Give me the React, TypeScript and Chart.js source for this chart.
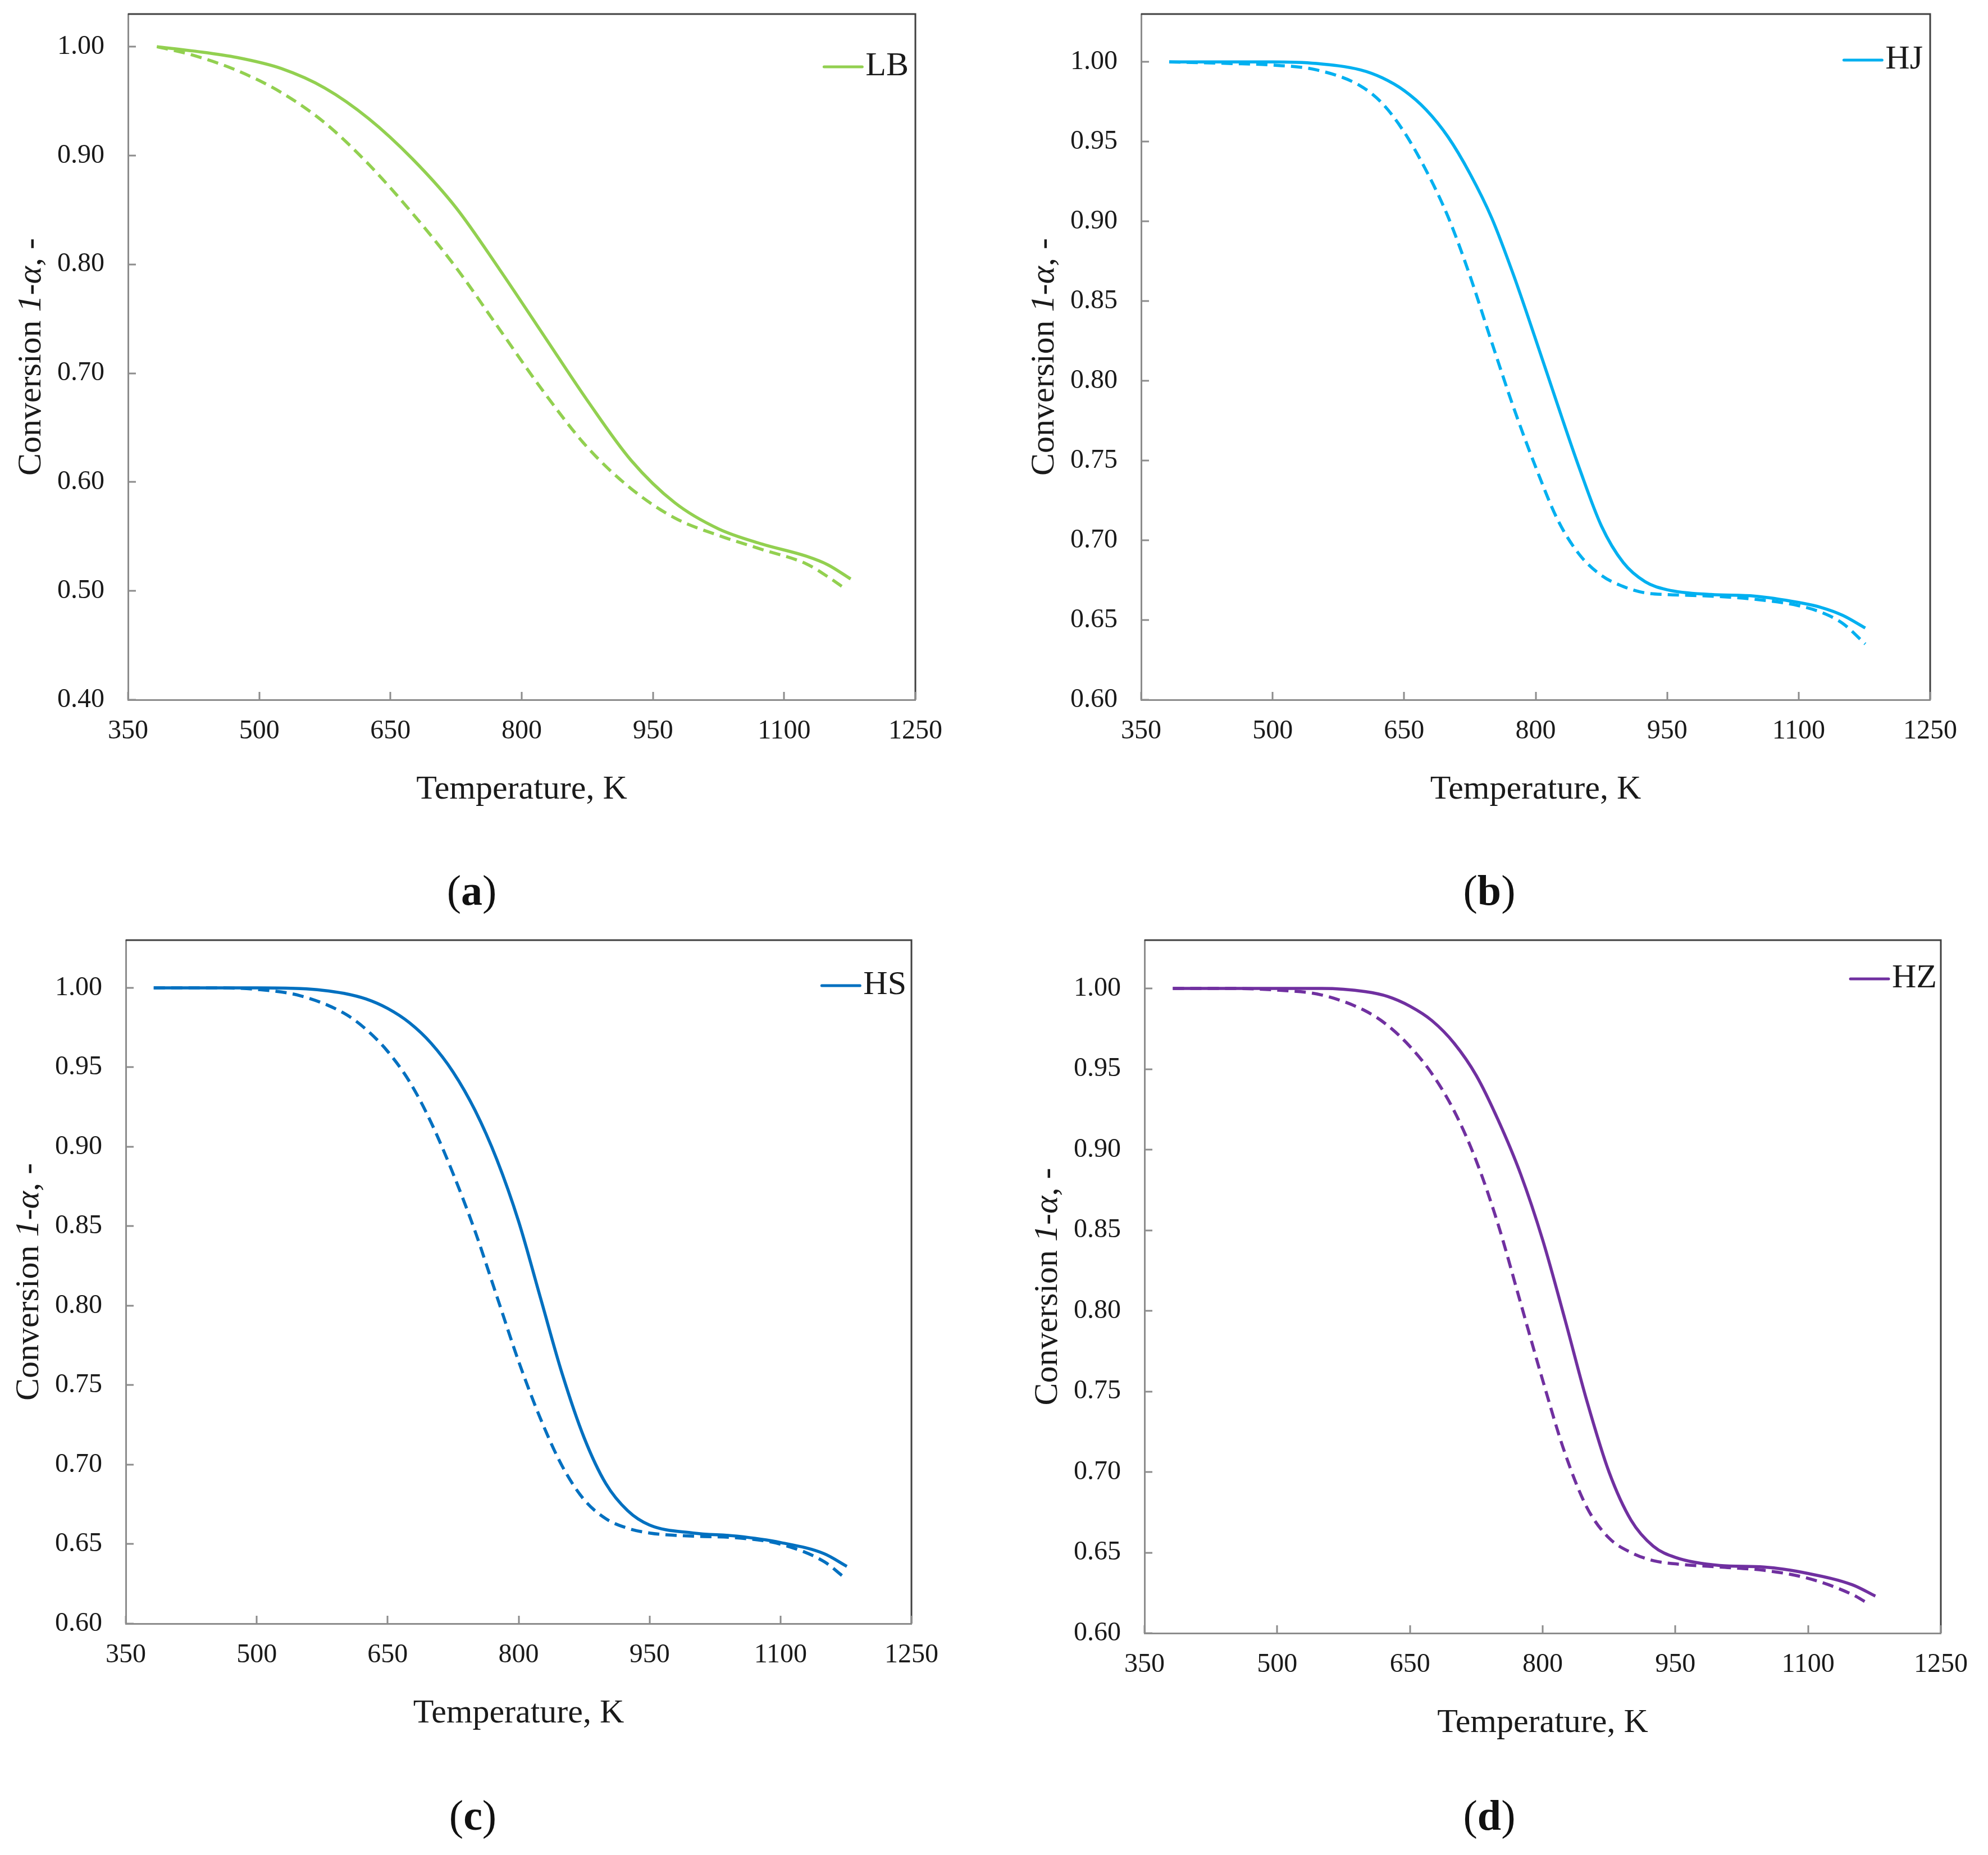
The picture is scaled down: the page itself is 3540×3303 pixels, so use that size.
import React, { useEffect, useRef } from "react";
import { Chart, registerables } from "chart.js";

Chart.register(...registerables);

const FONT = "'Liberation Serif', 'Times New Roman', serif";
Chart.defaults.font.family = FONT;

// x axis ticks (K) shared by all panels
const tempTicks = [350, 500, 650, 800, 950, 1100, 1250];

// (a) LB
const lbTempSolid = [383, 425, 475, 525, 575, 625, 675, 725, 775, 825, 875, 925, 975, 1025, 1075, 1125, 1150, 1176];
const lbSolid = [1.0, 0.996, 0.99, 0.98, 0.962, 0.934, 0.897, 0.852, 0.795, 0.735, 0.675, 0.62, 0.581, 0.557, 0.543, 0.532, 0.524, 0.511];
const lbTempDashed = [383, 425, 475, 525, 575, 625, 675, 725, 775, 825, 875, 925, 975, 1025, 1075, 1125, 1150, 1168];
const lbDashed = [1.0, 0.992, 0.978, 0.958, 0.93, 0.892, 0.847, 0.797, 0.74, 0.683, 0.632, 0.594, 0.567, 0.551, 0.538, 0.525, 0.513, 0.503];

// (b) HJ
const hjTempSolid = [382, 450, 500, 550, 600, 625, 650, 675, 700, 725, 750, 775, 800, 825, 850, 875, 900, 925, 950, 1000, 1050, 1100, 1125, 1150, 1176];
const hjSolid = [1.0, 1.0, 1.0, 0.999, 0.995, 0.99, 0.982, 0.97, 0.953, 0.93, 0.902, 0.866, 0.826, 0.785, 0.745, 0.709, 0.686, 0.674, 0.669, 0.666, 0.665, 0.661, 0.658, 0.653, 0.645];
const hjTempDashed = [382, 450, 500, 550, 600, 625, 650, 675, 700, 725, 750, 775, 800, 825, 850, 875, 900, 925, 950, 1000, 1050, 1100, 1125, 1150, 1176];
const hjDashed = [1.0, 0.999, 0.998, 0.995, 0.985, 0.974, 0.956, 0.932, 0.903, 0.866, 0.824, 0.783, 0.746, 0.713, 0.691, 0.678, 0.671, 0.667, 0.666, 0.665, 0.663, 0.659, 0.655, 0.648, 0.635];

// (c) HS
const hsTempSolid = [382, 450, 500, 550, 575, 600, 625, 650, 675, 700, 725, 750, 775, 800, 825, 850, 875, 900, 925, 950, 1000, 1050, 1100, 1150, 1176];
const hsSolid = [1.0, 1.0, 1.0, 0.9995, 0.9985, 0.9965, 0.993, 0.987, 0.978, 0.965, 0.947, 0.923, 0.892, 0.853, 0.805, 0.757, 0.717, 0.688, 0.671, 0.662, 0.657, 0.655, 0.651, 0.644, 0.636];
const hsTempDashed = [382, 450, 500, 550, 600, 625, 650, 675, 700, 725, 750, 775, 800, 825, 850, 875, 900, 925, 950, 1000, 1050, 1100, 1150, 1171];
const hsDashed = [1.0, 1.0, 0.999, 0.995, 0.984, 0.974, 0.96, 0.941, 0.915, 0.883, 0.847, 0.806, 0.765, 0.729, 0.699, 0.678, 0.666, 0.66, 0.657, 0.655, 0.654, 0.65, 0.639, 0.63];

// (d) HZ
const hzTempSolid = [382, 450, 500, 550, 600, 625, 650, 675, 700, 725, 750, 775, 800, 825, 850, 875, 900, 925, 950, 1000, 1050, 1100, 1150, 1176];
const hzSolid = [1.0, 1.0, 1.0, 1.0, 0.998, 0.995, 0.989, 0.98, 0.966, 0.946, 0.918, 0.885, 0.844, 0.795, 0.744, 0.7, 0.67, 0.654, 0.647, 0.642, 0.641, 0.637, 0.63, 0.623];
const hzTempDashed = [382, 450, 500, 550, 600, 625, 650, 675, 700, 725, 750, 775, 800, 825, 850, 875, 900, 925, 950, 1000, 1050, 1100, 1150, 1166];
const hzDashed = [1.0, 1.0, 0.999, 0.996, 0.986, 0.977, 0.964, 0.947, 0.924, 0.893, 0.853, 0.805, 0.757, 0.712, 0.678, 0.659, 0.65, 0.645, 0.643, 0.641, 0.639, 0.634, 0.624, 0.619];

type Panel = {
  tag: string;
  label: string;
  color: string;
  box: [number, number, number, number]; // left, top, right, bottom of plot area on the page
  yMin: number;
  yStep: number;
  tSolid: number[];
  vSolid: number[];
  tDashed: number[];
  vDashed: number[];
  legendDx: number;
  legendDy: number;
  caption: [number, number];
};

const panels: Panel[] = [
  { tag: "a", label: "LB", color: "#92D050", box: [228, 25, 1630, 1246], yMin: 0.4, yStep: 0.1,
    tSolid: lbTempSolid, vSolid: lbSolid, tDashed: lbTempDashed, vDashed: lbDashed, legendDx: 12, legendDy: 93, caption: [840, 1585] },
  { tag: "b", label: "HJ", color: "#00B0F0", box: [2032, 25, 3437, 1246], yMin: 0.6, yStep: 0.05,
    tSolid: hjTempSolid, vSolid: hjSolid, tDashed: hjTempDashed, vDashed: hjDashed, legendDx: 13, legendDy: 81, caption: [2652, 1585] },
  { tag: "c", label: "HS", color: "#0070C0", box: [224, 1674, 1623, 2891], yMin: 0.6, yStep: 0.05,
    tSolid: hsTempSolid, vSolid: hsSolid, tDashed: hsTempDashed, vDashed: hsDashed, legendDx: 9, legendDy: 80, caption: [842, 3232] },
  { tag: "d", label: "HZ", color: "#7030A0", box: [2038, 1674, 3456, 2908], yMin: 0.6, yStep: 0.05,
    tSolid: hzTempSolid, vSolid: hzSolid, tDashed: hzTempDashed, vDashed: hzDashed, legendDx: 7, legendDy: 68, caption: [2652, 3232] },
];

const Y_AXIS_W = 215;
const X_AXIS_H = 260;
const PAD_TOP = 25;
const PAD_RIGHT = 80;

const noOverhang = (s: any) => {
  s.paddingLeft = 0;
  s.paddingRight = 0;
  s.paddingTop = 0;
  s.paddingBottom = 0;
};

// frame, inside tick marks, axis titles and the small legend
const framePlugin = {
  id: "frame",
  afterDraw(chart: any, _args: any, opts: any) {
    const { ctx, chartArea: a, scales } = chart;
    ctx.save();
    // top and right border
    ctx.strokeStyle = "#404040";
    ctx.lineWidth = 3;
    ctx.beginPath();
    ctx.moveTo(a.left, a.top);
    ctx.lineTo(a.right, a.top);
    ctx.lineTo(a.right, a.bottom);
    ctx.stroke();

    // inside ticks
    ctx.strokeStyle = "#8c8c8c";
    ctx.lineWidth = 3;
    ctx.beginPath();
    scales.x.ticks.forEach((t: any) => {
      const px = Math.round(scales.x.getPixelForValue(t.value));
      ctx.moveTo(px, a.bottom);
      ctx.lineTo(px, a.bottom - 14);
    });
    scales.y.ticks.forEach((t: any) => {
      const py = Math.round(scales.y.getPixelForValue(t.value));
      ctx.moveTo(a.left, py);
      ctx.lineTo(a.left + 14, py);
    });
    ctx.stroke();

    ctx.fillStyle = "#1a1a1a";
    ctx.textBaseline = "middle";

    // x title
    ctx.font = `60px ${FONT}`;
    ctx.textAlign = "center";
    ctx.fillText("Temperature, K", (a.left + a.right) / 2, a.bottom + 160);

    // y title with italic part
    const parts: [string, boolean][] = [
      ["Conversion ", false],
      ["1-α", true],
      [", -", false],
    ];
    ctx.translate(a.left - 172, (a.top + a.bottom) / 2);
    ctx.rotate(-Math.PI / 2);
    ctx.textAlign = "left";
    let total = 0;
    const widths = parts.map(([s, it]) => {
      ctx.font = `${it ? "italic " : ""}60px ${FONT}`;
      const w = ctx.measureText(s).width;
      total += w;
      return w;
    });
    let x = -total / 2;
    parts.forEach(([s, it], i) => {
      ctx.font = `${it ? "italic " : ""}60px ${FONT}`;
      ctx.fillText(s, x, 0);
      x += widths[i];
    });
    ctx.restore();

    // legend: line + label
    ctx.save();
    const ds = chart.data.datasets[0];
    ctx.font = `60px ${FONT}`;
    ctx.textBaseline = "middle";
    ctx.textAlign = "right";
    ctx.fillStyle = "#1a1a1a";
    const ly = a.top + opts.dy;
    const rx = a.right - opts.dx;
    ctx.fillText(ds.label, rx, ly);
    const tw = ctx.measureText(ds.label).width;
    ctx.strokeStyle = ds.borderColor;
    ctx.lineWidth = 5;
    ctx.lineCap = "round";
    ctx.beginPath();
    ctx.moveTo(rx - tw - 6, ly + 1);
    ctx.lineTo(rx - tw - 74, ly + 1);
    ctx.stroke();
    ctx.restore();
  },
};

const PanelChart: React.FC<{ p: Panel }> = ({ p }) => {
  const canvasRef = useRef<HTMLCanvasElement | null>(null);
  const chartRef = useRef<Chart | null>(null);

  const [bl, bt, br, bb] = p.box;
  const left = bl - Y_AXIS_W;
  const top = bt - PAD_TOP;
  const width = br - bl + Y_AXIS_W + PAD_RIGHT;
  const height = bb - bt + PAD_TOP + X_AXIS_H;

  useEffect(() => {
    if (!canvasRef.current) return;
    if (chartRef.current) chartRef.current.destroy();

    chartRef.current = new Chart(canvasRef.current, {
      type: "line",
      data: {
        datasets: [
          {
            label: p.label,
            data: p.tSolid.map((t, i) => ({ x: t, y: p.vSolid[i] })),
            borderColor: p.color,
            borderWidth: 5.5,
            pointRadius: 0,
            fill: false,
            cubicInterpolationMode: "monotone",
          },
          {
            label: p.label + " dashed",
            data: p.tDashed.map((t, i) => ({ x: t, y: p.vDashed[i] })),
            borderColor: p.color,
            borderWidth: 5.5,
            borderDash: [20, 11],
            pointRadius: 0,
            fill: false,
            cubicInterpolationMode: "monotone",
          },
        ],
      },
      options: {
        animation: false,
        responsive: false,
        devicePixelRatio: 1,
        layout: { padding: { top: PAD_TOP, right: PAD_RIGHT, left: 0, bottom: 0 } },
        plugins: {
          legend: { display: false },
          tooltip: { enabled: false },
          frame: { dx: p.legendDx, dy: p.legendDy },
        } as any,
        scales: {
          x: {
            type: "linear",
            min: tempTicks[0],
            max: tempTicks[tempTicks.length - 1],
            afterBuildTicks: (s: any) => {
              s.ticks = tempTicks.map((v) => ({ value: v }));
            },
            afterFit: (s: any) => {
              s.height = X_AXIS_H;
              noOverhang(s);
            },
            grid: { display: false, drawTicks: false },
            border: { display: true, color: "#8c8c8c", width: 3 },
            ticks: {
              padding: 28,
              color: "#1a1a1a",
              font: { family: FONT, size: 48 },
              maxRotation: 0,
              callback: (v: any) => String(v),
            },
          },
          y: {
            type: "linear",
            min: p.yMin,
            max: 1.03,
            afterFit: (s: any) => {
              s.width = Y_AXIS_W;
              noOverhang(s);
            },
            grid: { display: false, drawTicks: false },
            border: { display: true, color: "#8c8c8c", width: 3 },
            ticks: {
              stepSize: p.yStep,
              includeBounds: false,
              padding: 42,
              color: "#1a1a1a",
              font: { family: FONT, size: 48 },
              callback: (v: any) => Number(v).toFixed(2),
            },
          },
        },
      } as any,
      plugins: [framePlugin],
    });

    return () => {
      if (chartRef.current) {
        chartRef.current.destroy();
        chartRef.current = null;
      }
    };
  }, [p]);

  return (
    <>
      <div style={{ position: "absolute", left, top, width, height }}>
        <canvas ref={canvasRef} width={width} height={height} style={{ width, height }} />
      </div>
      <div
        style={{
          position: "absolute",
          left: p.caption[0] - 120,
          top: p.caption[1] - 50,
          width: 240,
          height: 100,
          lineHeight: "100px",
          textAlign: "center",
          fontFamily: FONT,
          fontSize: 76,
          color: "#111",
        }}
      >
        (<b>{p.tag}</b>)
      </div>
    </>
  );
};

const App: React.FC = () => {
  return (
    <div style={{ position: "absolute", left: 0, top: 0, width: 3540, height: 3303, background: "#fff" }}>
      {panels.map((p) => (
        <PanelChart key={p.tag} p={p} />
      ))}
    </div>
  );
};

export default App;
